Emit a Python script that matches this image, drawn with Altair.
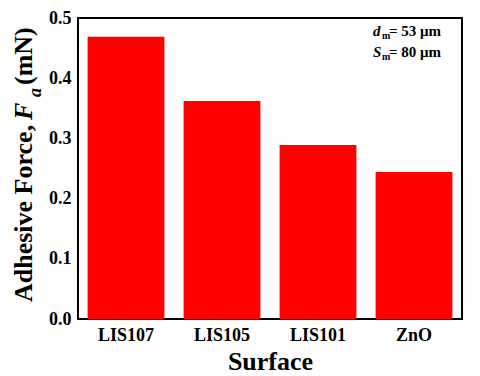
import altair as alt
import pandas as pd

surfaces = ["LIS107", "LIS105", "LIS101", "ZnO"]
forces = [0.469, 0.362, 0.289, 0.244]
y_ticks = [0.0, 0.1, 0.2, 0.3, 0.4, 0.5]

FONT = "Liberation Serif, Times New Roman, serif"
df = pd.DataFrame({"Surface": surfaces, "Force": forces})
one = pd.DataFrame({"k": [0]})

bars = alt.Chart(df).mark_bar(color="#ff0000").encode(
    x=alt.X("Surface:N", sort=surfaces,
            scale=alt.Scale(paddingInner=0.2, paddingOuter=0.1),
            axis=alt.Axis(title="Surface", labelAngle=0, labelPadding=7,
                          titlePadding=4, titleFontSize=26)),
    y=alt.Y("Force:Q", scale=alt.Scale(domain=[0, 0.5], nice=False),
            axis=alt.Axis(title="", values=y_ticks, format=".1f", labelPadding=7)),
)

TOP = 8  # plot top offset relative to y=10 absolute


def txt(s, x, y, size, style="normal", angle=0):
    return alt.Chart(one).mark_text(
        text=s, font=FONT, fontSize=size, fontWeight="bold", fontStyle=style,
        angle=angle, align="left", baseline="alphabetic", color="black",
    ).encode(x=alt.value(x), y=alt.value(y - TOP))


layers = [
    bars,
    # y-axis title pieces (rotated)
    txt("Adhesive Force,", -46, 292, 26, angle=270),
    txt("F", -46, 110, 26, style="italic", angle=270),
    txt("a", -37, 87, 18, style="italic", angle=270),
    txt("(mN)", -46, 75, 26, angle=270),
    # annotation
    txt("d", 295, 26, 15, style="italic"),
    txt("m", 304, 29, 10),
    txt("= 53 μm", 311, 26, 15),
    txt("S", 295, 47, 15, style="italic"),
    txt("m", 304, 50, 10),
    txt("= 80 μm", 311, 47, 15),
]

chart = alt.layer(*layers).properties(
    width=384, height=309 - TOP,
    autosize=alt.AutoSizeParams(type="none"),
    padding={"left": 70, "top": 2 + TOP, "right": 10, "bottom": 58},
).configure_view(
    stroke="black", strokeWidth=2
).configure_axis(
    domain=False, ticks=False, grid=False,
    labelFont=FONT, labelFontSize=18, labelFontWeight="bold", labelColor="black",
    titleFont=FONT, titleFontWeight="bold", titleColor="black",
)

chart.save("out.html", embed_options={"renderer": "svg", "actions": False})
